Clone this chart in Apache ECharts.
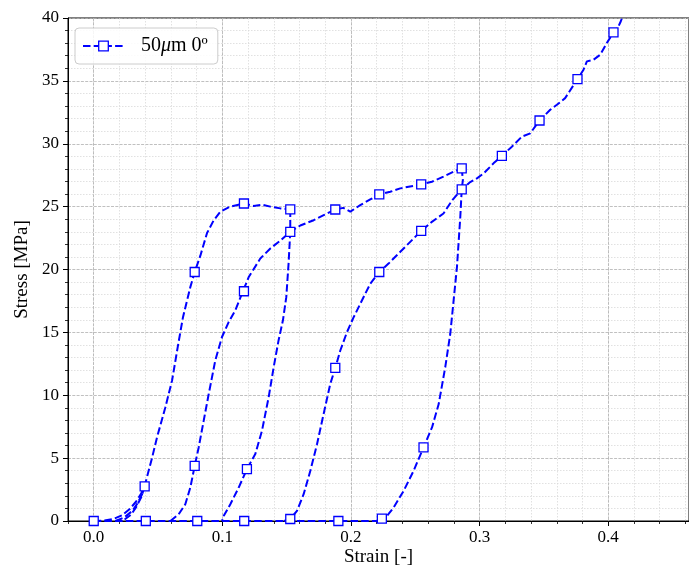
<!DOCTYPE html>
<html><head><meta charset="utf-8">
<script src="https://cdn.jsdelivr.net/npm/echarts@6/dist/echarts.min.js"></script>
<style>html,body{margin:0;padding:0;background:#fff}#c{width:689px;height:566px}</style>
</head><body><div id="c"></div>
<script>
const seriesName = '50μm 0º';
const xMajorTicks = [0, 0.1, 0.2, 0.3, 0.4];
const yTicks = [0, 5, 10, 15, 20, 25, 30, 35, 40];

// curve branches [strain, stress]
const zeroLine = [[0,0],[0.2202,0]];
const load0 = [[0,0],[0.008,0.03],[0.015,0.15],[0.022,0.45],[0.028,0.95],[0.033,1.55],[0.037,2.2],[0.0395,2.75]];
const unload0 = [[0.0395,2.75],[0.037,1.9],[0.033,1.1],[0.029,0.5],[0.024,0.12],[0.017,0]];
const reload0 = [[0.017,0],[0.024,0.3],[0.030,0.8],[0.034,1.4],[0.0375,2.1],[0.0395,2.75]];
const loadA = [[0.0395,2.75],[0.0453,5.0],[0.0492,6.65],[0.0557,9.04],[0.0609,11.17],[0.0653,13.83],[0.0694,16.21],[0.0751,18.6],[0.0785,19.8],[0.0829,21.1],[0.0881,22.9],[0.0932,23.9],[0.0984,24.6],[0.1062,25.0],[0.1168,25.25],[0.1243,25.05],[0.1309,25.15],[0.1373,25.0],[0.1451,24.86],[0.1528,24.78]];
const unloadA = [[0.1528,24.78],[0.1528,23.0],[0.1515,20.5],[0.1497,17.8],[0.1471,15.96],[0.1437,14.36],[0.1399,12.23],[0.1360,9.84],[0.1308,7.18],[0.1256,5.32],[0.1191,4.12],[0.1127,2.66],[0.1062,1.33],[0.1010,0.4],[0.0997,0]];
const loadB = [[0.0596,0],[0.0660,0.53],[0.0712,1.33],[0.0751,2.66],[0.0785,4.39],[0.0816,5.85],[0.0855,7.98],[0.0894,10.1],[0.0945,12.77],[0.0997,14.63],[0.1049,15.82],[0.1101,16.76],[0.1160,18.27],[0.1205,19.4],[0.1295,20.87],[0.1373,21.67],[0.1451,22.3],[0.1528,23.0],[0.1606,23.5],[0.1710,23.92],[0.1788,24.32],[0.1878,24.77],[0.1940,24.9],[0.1995,24.6],[0.2072,25.12],[0.2150,25.57],[0.2220,25.97],[0.2305,26.18],[0.2383,26.45],[0.2546,26.77],[0.2629,26.98],[0.2719,27.38],[0.2797,27.78],[0.2861,28.04]];
const unloadB = [[0.2861,28.04],[0.2870,27.11],[0.2861,26.37],[0.2850,24.19],[0.2824,20.2],[0.2798,17.54],[0.2772,14.89],[0.2733,12.23],[0.2682,9.3],[0.2630,7.44],[0.2564,5.85],[0.2487,3.99],[0.2409,2.39],[0.2331,1.06],[0.2280,0.4],[0.2240,0.19],[0.2202,0]];
const loadC = [[0.148,0],[0.1528,0.16],[0.158,0.8],[0.1632,2.13],[0.1684,3.99],[0.1736,6.11],[0.1787,8.5],[0.1839,10.9],[0.1878,12.17],[0.1917,13.56],[0.1969,15.02],[0.2021,16.21],[0.2085,17.54],[0.2150,18.87],[0.2220,19.8],[0.2292,20.47],[0.2370,21.27],[0.2447,22.06],[0.2546,23.07],[0.2629,23.79],[0.2719,24.45],[0.2788,25.52],[0.2861,26.37],[0.2927,26.95],[0.2979,27.25],[0.3031,27.64],[0.3108,28.44],[0.3173,29.03],[0.3251,29.77],[0.3329,30.57],[0.3394,30.83],[0.3466,31.85],[0.3549,32.7],[0.3601,33.1],[0.3665,33.63],[0.3761,35.14],[0.3808,35.89],[0.3834,36.55],[0.3886,36.68],[0.3938,37.08],[0.3989,38.01],[0.4041,38.86],[0.4080,39.34],[0.4098,39.74],[0.4135,40.8]];
const markers = [[0,0],[0.0396,2.75],[0.0405,0],[0.0785,4.39],[0.0785,19.8],[0.0805,0],[0.1168,18.27],[0.1168,25.25],[0.1191,4.12],[0.117,0],[0.1528,24.78],[0.1528,23.0],[0.1528,0.16],[0.1878,24.77],[0.1878,12.17],[0.1902,0],[0.2220,25.97],[0.2220,19.8],[0.2240,0.19],[0.2546,26.77],[0.2546,23.07],[0.2564,5.85],[0.2861,28.04],[0.2861,26.37],[0.3173,29.03],[0.3466,31.85],[0.3761,35.14],[0.4041,38.86]];

const branches = [zeroLine, load0, unload0, reload0, loadA, unloadA, loadB, unloadB, loadC];
const BLUE = '#0000ff';
const FONT = 'Liberation Serif';

const lineSeries = branches.map(b => ({
  name: seriesName, type: 'line', data: b, xAxisIndex: 0, yAxisIndex: 0,
  symbol: 'rect', showSymbol: false, symbolSize: 9,
  itemStyle: {color: '#ffffff', borderColor: BLUE, borderWidth: 1.3},
  lineStyle: {color: BLUE, width: 2, type: [7.5, 3.2]},
  z: 3, animation: false, silent: true, clip: true
}));

const chart = echarts.init(document.getElementById('c'), null, {renderer: 'canvas'});
chart.setOption({
  animation: false,
  backgroundColor: '#ffffff',
  grid: {left: 68, right: 0, top: 18, bottom: 45, containLabel: false, outerBoundsMode: 'none',
    show: true, borderColor: '#000', borderWidth: 1, backgroundColor: 'transparent'},
  legend: {
    data: [{name: seriesName}],
    left: 75, top: 28, orient: 'vertical',
    padding: [8, 10, 8, 7],
    itemWidth: 41, itemHeight: 12,
    backgroundColor: 'rgba(255,255,255,0.85)', borderColor: '#cccccc', borderWidth: 1, borderRadius: 4,
    itemStyle: {color: '#ffffff', borderColor: BLUE, borderWidth: 1.3},
    formatter: () => '{s|}{t|50}{m|μ}{t|m 0º}',
    textStyle: {
      fontFamily: FONT, fontSize: 20, color: '#000',
      rich: {
        s: {width: 12, fontSize: 20},
        t: {fontFamily: FONT, fontSize: 20, color: '#000'},
        m: {fontFamily: FONT, fontSize: 20, fontStyle: 'italic', color: '#000'}
      }
    }
  },
  xAxis: [
    {
      type: 'value', min: -0.02, max: 0.4628, interval: 0.02, position: 'bottom',
      name: 'Strain [-]', nameLocation: 'middle', nameGap: 27,
      nameTextStyle: {fontFamily: FONT, fontSize: 19, color: '#000'},
      axisLine: {show: true, onZero: false, lineStyle: {color: '#000', width: 1}},
      axisTick: {show: true, inside: false, length: 3, lineStyle: {color: '#000', width: 0.8}},
      axisLabel: {show: false},
      splitLine: {show: true, lineStyle: {color: '#d9d9d9', width: 0.8, type: [1.5, 1.5]}}
    },
    {
      type: 'value', min: -0.02, max: 0.4628, position: 'bottom',
      axisLine: {show: false, onZero: false},
      axisTick: {show: true, inside: false, length: 5, customValues: xMajorTicks, lineStyle: {color: '#000', width: 1}},
      axisLabel: {show: true, customValues: xMajorTicks, margin: 8, fontFamily: FONT, fontSize: 17, color: '#000', formatter: v => v.toFixed(1)},
      splitLine: {show: true, lineStyle: {color: '#b0b0b0', width: 0.8, type: [3, 1.3]}}
    }
  ],
  yAxis: {
    type: 'value', min: 0, max: 40, interval: 5,
    name: 'Stress [MPa]', nameLocation: 'middle', nameGap: 36, nameRotate: 90,
    nameTextStyle: {fontFamily: FONT, fontSize: 19, color: '#000'},
    axisLine: {show: true, onZero: false, lineStyle: {color: '#000', width: 1}},
    axisTick: {show: true, inside: false, length: 5, lineStyle: {color: '#000', width: 1}},
    minorTick: {show: true, splitNumber: 5, length: 3, lineStyle: {color: '#000', width: 0.8}},
    axisLabel: {show: true, margin: 9, fontFamily: FONT, fontSize: 17, color: '#000',
      customValues: yTicks, formatter: v => String(v)},
    splitLine: {show: true, lineStyle: {color: '#b0b0b0', width: 0.8, type: [3, 1.3]}},
    minorSplitLine: {show: true, lineStyle: {color: '#d9d9d9', width: 0.8, type: [1.5, 1.5]}}
  },
  series: lineSeries.concat([{
    name: 'markers', type: 'scatter', data: markers,
    symbol: 'rect', symbolSize: 9,
    itemStyle: {color: '#ffffff', borderColor: BLUE, borderWidth: 1.3, opacity: 1},
    z: 4, animation: false, silent: true, clip: true
  }])
});
</script>
</body></html>
